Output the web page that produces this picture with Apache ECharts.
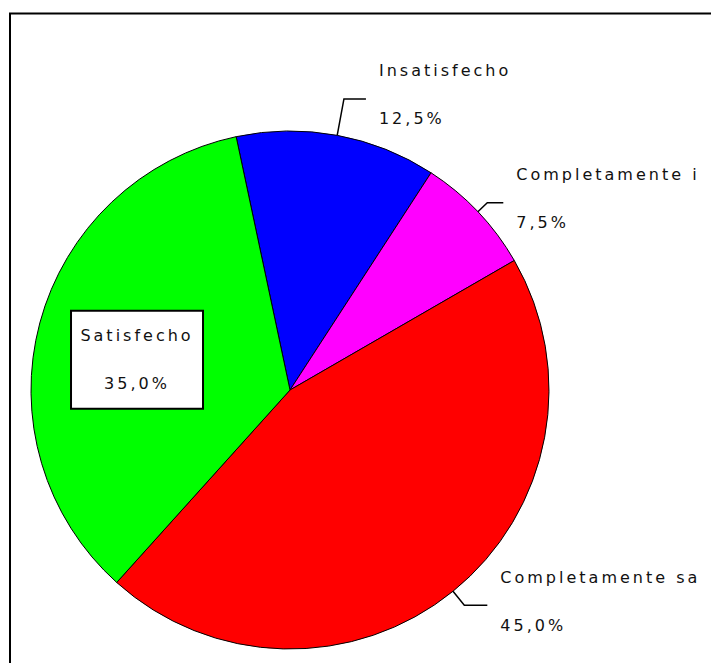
<!DOCTYPE html>
<html>
<head>
<meta charset="utf-8">
<script src="https://cdn.jsdelivr.net/npm/echarts@6/dist/echarts.min.js"></script>
<style>
  html, body { margin: 0; padding: 0; background: #fff; }
  #chart { width: 711px; height: 663px; }
  #chart text { letter-spacing: 3px; }
</style>
</head>
<body>
<div id="chart"></div>
<script>
// Data (clockwise order as drawn)
const categories = ['Insatisfecho', 'Completamente i', 'Completamente sa', 'Satisfecho'];
const values = [12.5, 7.5, 45.0, 35.0];
const sliceColors = ['#0000ff', '#ff00ff', '#ff0000', '#00ff00'];

const fmt = v => v.toFixed(1).replace('.', ',') + '%';

const leader = [
  { length: 37, length2: 22 },
  { length: 13, length2: 16 },
  { length: 18, length2: 23 },
  null
];

const chart = echarts.init(document.getElementById('chart'), null, { renderer: 'svg' });

const data = categories.map((name, i) => {
  const item = {
    name: name,
    value: values[i],
    itemStyle: { color: sliceColors[i] }
  };
  if (leader[i]) {
    item.labelLine = { show: true, length: leader[i].length, length2: leader[i].length2,
      lineStyle: { color: '#000', width: 1.5 } };
  } else {
    item.label = {
      position: 'inside',
      backgroundColor: '#fff',
      borderColor: '#000',
      borderWidth: 2,
      width: 126,
      padding: [0, 2],
      align: 'center',
      lineHeight: 48,
      formatter: p => p.name + '\n' + fmt(p.value)
    };
    item.labelLine = { show: false };
  }
  return item;
});

chart.setOption({
  animation: false,
  backgroundColor: '#fff',
  graphic: [{
    type: 'rect',
    shape: { x: 10, y: 13.5, width: 900, height: 900 },
    style: { fill: 'none', stroke: '#000', lineWidth: 2 },
    silent: true
  }],
  series: [{
    type: 'pie',
    center: [290, 390],
    radius: 259,
    startAngle: 102,
    clockwise: true,
    avoidLabelOverlap: false,
    data: data,
    itemStyle: { borderColor: '#000', borderWidth: 1 },
    label: {
      show: true,
      position: 'outside',
      fontFamily: 'DejaVu Sans',
      fontSize: 16,
      color: '#111',
      lineHeight: 24,
      distanceToLabelLine: 13,
      formatter: p => '{a|' + p.name + '}\n{a| }\n{a|' + fmt(p.value) + '}\n{s| }',
      rich: {
        a: { fontFamily: 'DejaVu Sans', fontSize: 16, color: '#111', lineHeight: 24 },
        s: { fontSize: 4, lineHeight: 8 }
      }
    },
    labelLayout: function (params) {
      if (params.dataIndex === 3) {
        return { dx: -25, dy: 4 };
      }
      return {};
    }
  }]
});
</script>
</body>
</html>
